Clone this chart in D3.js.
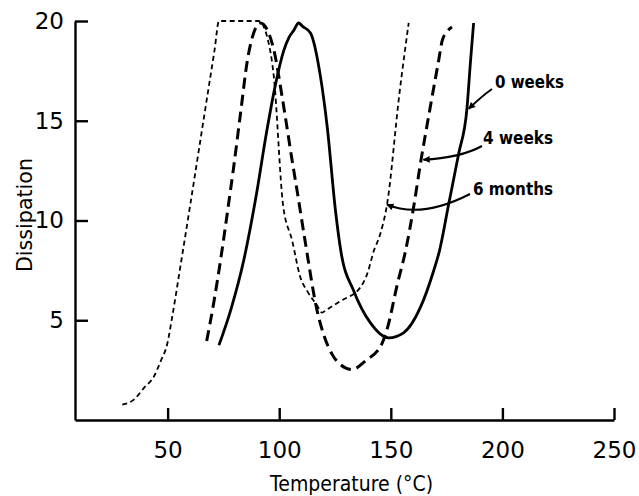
<!DOCTYPE html>
<html>
<head>
<meta charset="utf-8">
<script src="https://cdn.jsdelivr.net/npm/d3@7"></script>
<style>
  html, body { margin: 0; padding: 0; background: #fff; }
  svg { display: block; }
</style>
</head>
<body>
<svg id="chart" width="639" height="496"></svg>
<script>
// Tick values
const xTicks = [50, 100, 150, 200, 250];
const yTicks = [5, 10, 15, 20];

// Dissipation vs temperature (°C), one pair of arrays per ageing time
const tempWeek0 = [73.0, 78.5, 84.1, 89.3, 94.6, 98.3, 102.0, 104.5, 106.5, 108.7, 110.5, 114.0, 118.5, 121.5, 125.2, 127.6, 133.4, 140.8, 149.0, 155.7, 163.2, 169.2, 171.8, 175.9, 180.4, 184.1, 185.7, 187.1];
const dissWeek0 = [3.75, 5.6, 8.0, 11.0, 14.6, 16.8, 18.5, 19.2, 19.53, 19.9, 19.73, 19.4, 17.2, 14.7, 10.5, 8.48, 6.47, 4.88, 4.12, 4.37, 5.63, 7.48, 8.48, 10.8, 13.35, 15.6, 17.97, 19.9];

const tempWeek4 = [67.5, 70.7, 73.7, 77.4, 79.5, 82.7, 85.7, 88.0, 91.6, 94.6, 97.6, 101.3, 105.8, 108.0, 111.7, 117.0, 119.9, 123.7, 127.4, 132.6, 139.4, 143.9, 146.2, 148.5, 152.9, 156.6, 160.2, 163.2, 167.7, 171.4, 173.0, 175.2, 177.4];
const dissWeek4 = [3.96, 5.9, 8.0, 10.9, 12.6, 15.4, 18.0, 19.2, 19.9, 19.56, 18.55, 16.2, 13.0, 11.5, 8.9, 5.47, 4.29, 3.29, 2.78, 2.53, 3.03, 3.45, 3.87, 4.62, 6.8, 8.48, 10.66, 12.8, 15.7, 18.0, 19.0, 19.47, 19.7];

const tempMonth6 = [29.7, 34.9, 39.4, 43.9, 46.9, 49.9, 52.1, 55.8, 60.3, 66.6, 71.1, 73.0, 90.9, 94.6, 97.6, 101.7, 105.8, 109.5, 112.5, 117.0, 119.2, 121.0, 127.6, 136.3, 139.4, 142.4, 145.3, 148.3, 153.9, 158.0];
const dissMonth6 = [0.77, 1.02, 1.61, 2.19, 2.95, 3.85, 5.2, 7.75, 10.9, 15.4, 18.6, 20.0, 20.0, 19.2, 17.2, 10.8, 8.99, 7.14, 6.47, 5.74, 5.38, 5.51, 5.97, 6.64, 7.31, 8.48, 9.33, 10.8, 16.4, 19.9];

// Series labels and the point on each curve their pointer touches
const seriesLabels = ["0 weeks", "4 weeks", "6 months"];
const pointerTemp = [184.9, 164.6, 148.3];
const pointerDiss = [15.6, 13.05, 10.8];

const FONT = "'DejaVu Sans', sans-serif";
const svg = d3.select("#chart");

const x = d3.scaleLinear().domain([8.5, 250]).range([75, 614]);
const y = d3.scaleLinear().domain([0, 20]).range([420, 21]);

// Axes with inward-pointing ticks
const xAxis = d3.axisBottom(x).tickValues(xTicks).tickSizeInner(-12).tickSizeOuter(0)
  .tickPadding(22).tickFormat(d3.format("d"));
const yAxis = d3.axisLeft(y).tickValues(yTicks).tickSizeInner(-13).tickSizeOuter(0)
  .tickPadding(11).tickFormat(d3.format("d"));

function styleAxis(g) {
  g.select(".domain").attr("stroke", "#000").attr("stroke-width", 2.4);
  g.selectAll(".tick line").attr("stroke", "#000").attr("stroke-width", 2.4);
  g.selectAll(".tick text").attr("fill", "#000")
    .style("font-family", FONT).style("font-size", "23px");
}

svg.append("g").attr("transform", "translate(0,420)").call(xAxis).call(styleAxis);
svg.append("g").attr("transform", "translate(75,0)").call(yAxis).call(styleAxis);

// Axis titles
svg.append("text")
  .attr("x", 270).attr("y", 491)
  .attr("textLength", 163).attr("lengthAdjust", "spacingAndGlyphs")
  .style("font-family", FONT).style("font-size", "21px").attr("fill", "#000")
  .text("Temperature (°C)");

svg.append("text")
  .attr("transform", "translate(32,272) rotate(-90)")
  .attr("x", 0).attr("y", 0)
  .attr("textLength", 114).attr("lengthAdjust", "spacingAndGlyphs")
  .style("font-family", FONT).style("font-size", "21px").attr("fill", "#000")
  .text("Dissipation");

// Curves
const line = d3.line().x(d => x(d[0])).y(d => y(d[1])).curve(d3.curveMonotoneX);

const series = [
  { t: tempWeek0, v: dissWeek0, width: 2.8, dash: null },
  { t: tempWeek4, v: dissWeek4, width: 3, dash: "11,6" },
  { t: tempMonth6, v: dissMonth6, width: 1.8, dash: "5,3.5" }
];

svg.append("g").selectAll("path")
  .data(series)
  .join("path")
  .attr("d", s => line(d3.zip(s.t, s.v)))
  .attr("fill", "none")
  .attr("stroke", "#000")
  .attr("stroke-width", s => s.width)
  .attr("stroke-dasharray", s => s.dash)
  .attr("stroke-linejoin", "round");

// Arrowhead marker for the label pointers
svg.append("defs").append("marker")
  .attr("id", "arrowhead")
  .attr("viewBox", "0 0 10 10")
  .attr("refX", 9).attr("refY", 5)
  .attr("markerWidth", 9).attr("markerHeight", 7)
  .attr("markerUnits", "userSpaceOnUse")
  .attr("orient", "auto")
  .append("path").attr("d", "M0,0L10,5L0,10Z").attr("fill", "#000");

// Labels with curved pointers
const labelPos = [
  { tx: 495, ty: 88, len: 69, sx: 492, sy: 89, cx: 482, cy: 96 },
  { tx: 483, ty: 144, len: 70, sx: 482, sy: 146, cx: 460, cy: 158 },
  { tx: 473, ty: 195, len: 80, sx: 470, sy: 194, cx: 421, cy: 219 }
];

const labels = svg.append("g");
seriesLabels.forEach((name, i) => {
  const p = labelPos[i];
  const ex = x(pointerTemp[i]), ey = y(pointerDiss[i]);
  labels.append("path")
    .attr("d", `M${p.sx},${p.sy}Q${p.cx},${p.cy} ${ex},${ey}`)
    .attr("fill", "none").attr("stroke", "#000").attr("stroke-width", 2)
    .attr("marker-end", "url(#arrowhead)");
  labels.append("text")
    .attr("x", p.tx).attr("y", p.ty)
    .attr("textLength", p.len).attr("lengthAdjust", "spacingAndGlyphs")
    .style("font-family", FONT).style("font-size", "17px").style("font-weight", "bold")
    .attr("fill", "#000")
    .text(name);
});
</script>
</body>
</html>
